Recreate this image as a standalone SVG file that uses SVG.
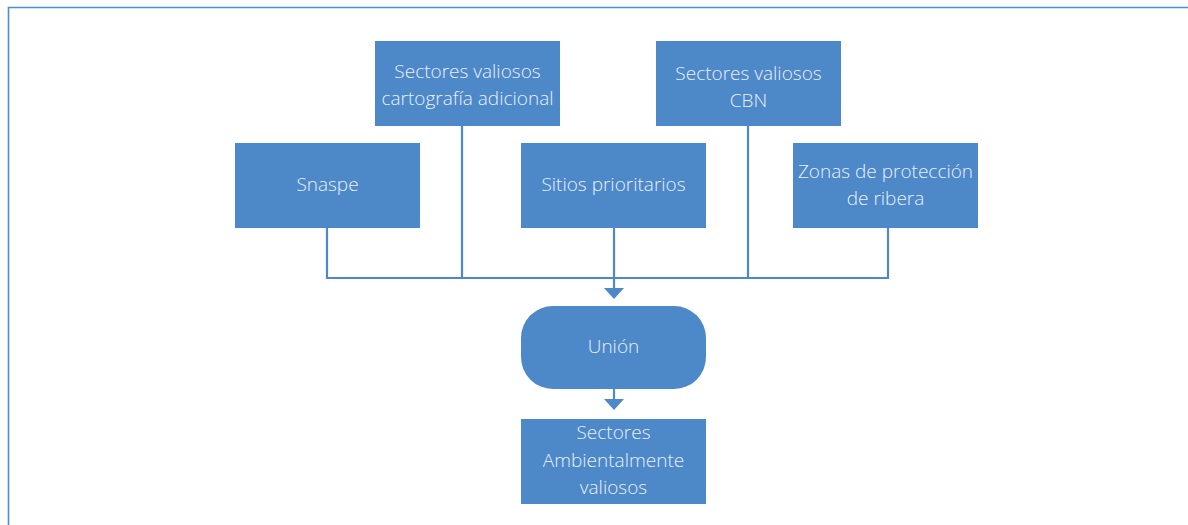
<svg xmlns="http://www.w3.org/2000/svg" width="1188" height="525" viewBox="0 0 1188 525">
<style>
.box{fill:#4d88c8}
.t{font-family:"Open Sans","Noto Sans","Liberation Sans",sans-serif;font-size:19px;font-weight:300;fill:#e9f0fa;text-anchor:middle}
.c{fill:none;stroke:#4d88c8;stroke-width:2.2}
.frame{fill:none;stroke:#4a8fd0;stroke-width:1.6}
</style>
<rect width="1188" height="525" fill="#ffffff"/>
<path class="frame" d="M8.5,525 V7.5 H1188"/>
<g id="connectors">
<path class="c" d="M327,228 V278 H888 V228"/>
<path class="c" d="M462,126 V278"/>
<path class="c" d="M748,126 V278"/>
<path class="c" d="M614,228 V288"/>
<path d="M604,288 L624,288 L614,299 Z" fill="#4d88c8"/>
<path class="c" d="M614,389 V399"/>
<path d="M604,399 L624,399 L614,410 Z" fill="#4d88c8"/>
</g>
<g id="n-cartografia">
<rect class="box" x="375" y="41" width="185" height="85"/>
<text class="t" x="467.5" y="78">Sectores valiosos</text>
<text class="t" x="467.5" y="105">cartografía adicional</text>
</g>
<g id="n-cbn">
<rect class="box" x="656" y="41" width="185" height="85"/>
<text class="t" x="748.5" y="80">Sectores valiosos</text>
<text class="t" x="748.5" y="107">CBN</text>
</g>
<g id="n-snaspe">
<rect class="box" x="235" y="143" width="185" height="85"/>
<text class="t" x="327.5" y="191">Snaspe</text>
</g>
<g id="n-sitios">
<rect class="box" x="521" y="143" width="185" height="85"/>
<text class="t" x="613.5" y="191">Sitios prioritarios</text>
</g>
<g id="n-zonas">
<rect class="box" x="793" y="143" width="185" height="85"/>
<text class="t" x="885.5" y="178">Zonas de protección</text>
<text class="t" x="885.5" y="205">de ribera</text>
</g>
<g id="n-union">
<rect class="box" x="521" y="306" width="185" height="83" rx="32" ry="32"/>
<text class="t" x="613.5" y="353">Unión</text>
</g>
<g id="n-sectores-amb">
<rect class="box" x="521" y="419" width="185" height="85"/>
<text class="t" x="613.5" y="439">Sectores</text>
<text class="t" x="613.5" y="467">Ambientalmente</text>
<text class="t" x="613.5" y="494">valiosos</text>
</g>
</svg>
